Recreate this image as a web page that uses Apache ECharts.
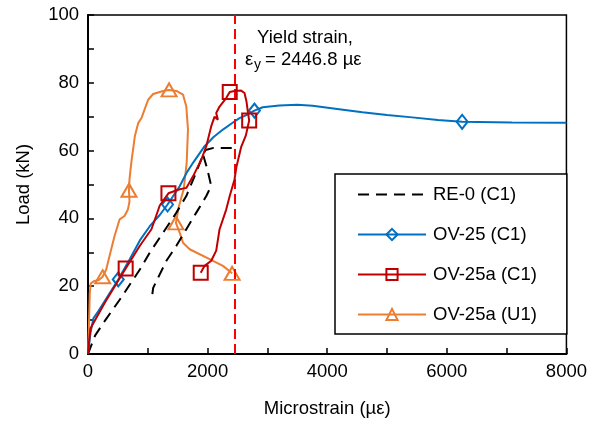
<!DOCTYPE html>
<html>
<head>
<meta charset="utf-8">
<script src="https://cdn.jsdelivr.net/npm/echarts@6/dist/echarts.min.js"></script>
<style>
  html, body { margin: 0; padding: 0; background: #fff; }
  #chart { width: 590px; height: 423px; }
</style>
</head>
<body>
<div id="chart"></div>
<script>
// axis ticks
const xTicks = [0, 2000, 4000, 6000, 8000]
const yTicks = [0, 20, 40, 60, 80, 100]
const yieldStrain = 2446.8

// RE-0 (C1): loading branch, plateau, then unloading/reloading branch
const re0 = [
  [0, 0], [120, 5.5], [290, 10], [530, 16], [870, 25], [1033, 29.9], [1256, 35.8],
  [1478, 41.7], [1644, 46.6], [1783, 52.5], [1894, 57.4], [1930, 58.5],
  [1965, 60.2], [2100, 60.8], [2300, 60.8], [2480, 60.8],
  null,
  [1930, 58.5], [1994, 54.6], [2060, 49.6], [1978, 46.6], [1811, 41.7], [1644, 36.8],
  [1478, 31.9], [1311, 27.5], [1172, 22.5], [1090, 19.5], [1065, 16.2]
]

// OV-25 (C1)
const ov25 = [
  [0, 0], [40, 6], [90, 10.5], [180, 12.8], [283, 15.7], [506, 22], [700, 28],
  [867, 33.5], [1033, 37.7], [1200, 41], [1330, 44.1], [1533, 49.5], [1650, 53.5],
  [1756, 56.4], [1950, 61.3], [2100, 64], [2256, 66.2], [2400, 68], [2533, 69.6],
  [2630, 70.3], [2783, 71.8], [2922, 72.8], [3200, 73.3], [3500, 73.5], [3756, 73.2],
  [4200, 72.2], [4589, 71.3], [5000, 70.5], [5422, 69.8], [5850, 69], [6256, 68.5],
  [7089, 68.3], [8000, 68.2]
]
const ov25Marks = [5, 10, 20, 30]

// OV-25a (C1)
const ov25a = [
  [0, 0], [20, 4], [40, 7.5], [283, 15.2], [630, 25.2], [870, 32], [1061, 36.8],
  [1200, 43.8], [1345, 47.4], [1533, 48.6], [1644, 49], [1756, 52.4], [1894, 57.3],
  [1978, 61.3], [2061, 67.2], [2117, 70], [2172, 69.1], [2144, 71.1], [2200, 73],
  [2311, 75.5], [2370, 77.3], [2450, 77.6], [2560, 77.7], [2617, 77], [2650, 74.5],
  [2675, 71.2], [2695, 68.9], [2640, 64.5], [2560, 61], [2480, 55], [2450, 51.5],
  [2370, 46.6], [2311, 42.6], [2200, 36.8], [2144, 30.5], [2061, 27.5], [1950, 26],
  [1885, 24]
]
const ov25aMarks = [4, 8, 20, 26, 37]

// OV-25a (U1)
const ov25aU = [
  [0, 0], [15, 8], [30, 18], [45, 20.8], [100, 21.5], [180, 21.8], [245, 22.8],
  [306, 25], [361, 29], [444, 34.8], [528, 39.7], [611, 40.7], [667, 42.6],
  [694, 45], [685, 48.3], [694, 51.5], [711, 54.4], [728, 57], [783, 64.2],
  [839, 68.1], [894, 69.6], [950, 72.3], [1006, 75], [1089, 76.7], [1256, 77.6],
  [1356, 77.9], [1478, 77.6], [1589, 76.5], [1644, 73], [1672, 66.2], [1650, 56.4],
  [1600, 48.6], [1520, 43.6], [1470, 38.7], [1533, 35.8], [1589, 32.8], [1700, 30.9],
  [2033, 28], [2256, 26], [2410, 23.8]
]
const ov25aUMarks = [6, 14, 25, 33, 39]

const FONT = 'Liberation Sans, Arial, sans-serif'
const labelFont = { fontFamily: FONT, fontSize: 18.5, color: '#000' }

const toData = (pts, marks) => pts.map((p, i) => {
  if (p === null) return '-'
  return marks && marks.includes(i) ? { value: p } : { value: p, symbol: 'none' }
})

const chart = echarts.init(document.getElementById('chart'))

const series = [
  {
    name: 'RE-0 (C1)',
    type: 'line',
    data: toData(re0, null),
    symbol: 'none',
    connectNulls: false,
    lineStyle: { color: '#000', width: 2, type: [11, 7] },
    itemStyle: { color: '#000' },
    z: 3
  },
  {
    name: 'OV-25 (C1)',
    type: 'line',
    data: toData(ov25, ov25Marks),
    symbol: 'diamond',
    symbolSize: [11, 14],
    lineStyle: { color: '#0070C0', width: 2 },
    itemStyle: { color: 'rgba(255,255,255,0)', borderColor: '#0070C0', borderWidth: 2 },
    z: 4,
    markLine: {
      silent: true,
      symbol: 'none',
      label: { show: false },
      lineStyle: { color: '#FF0000', width: 2, type: [10, 5] },
      data: [{ xAxis: yieldStrain }]
    }
  },
  {
    name: 'OV-25a (C1)',
    type: 'line',
    data: toData(ov25a, ov25aMarks),
    symbol: 'rect',
    symbolSize: 14,
    lineStyle: { color: '#C00000', width: 2 },
    itemStyle: { color: 'rgba(255,255,255,0)', borderColor: '#C00000', borderWidth: 2 },
    z: 5
  },
  {
    name: 'OV-25a (U1)',
    type: 'line',
    data: toData(ov25aU, ov25aUMarks),
    symbol: 'triangle',
    symbolSize: [15, 13],
    lineStyle: { color: '#ED7D31', width: 2 },
    itemStyle: { color: 'rgba(255,255,255,0)', borderColor: '#ED7D31', borderWidth: 2 },
    z: 2
  }
]

chart.setOption({
  animation: false,
  grid: {
    left: 88, right: 22, top: 15, bottom: 68,
    show: true, borderColor: '#000', borderWidth: 1.5, backgroundColor: 'transparent'
  },
  legend: {
    orient: 'vertical',
    left: 335, top: 174,
    width: 232,
    padding: [11, 30, 10, 22],
    itemWidth: 68, itemHeight: 14, itemGap: 21,
    borderColor: '#000', borderWidth: 1.5,
    backgroundColor: '#fff',
    textStyle: { ...labelFont, padding: [0, 0, 0, 2] },
    data: [
      { name: 'RE-0 (C1)', itemStyle: { color: 'rgba(0,0,0,0)', borderWidth: 0 } },
      'OV-25 (C1)', 'OV-25a (C1)', 'OV-25a (U1)'
    ]
  },
  xAxis: {
    type: 'value',
    min: xTicks[0], max: xTicks[xTicks.length - 1], interval: 2000,
    name: 'Microstrain (µε)',
    nameLocation: 'middle', nameGap: 45,
    nameTextStyle: labelFont,
    axisLine: { show: true, lineStyle: { color: '#000', width: 2 } },
    axisTick: { show: true, inside: true, length: 6, lineStyle: { color: '#000', width: 1.5 } },
    minorTick: { show: true, splitNumber: 2, length: 6, lineStyle: { color: '#000', width: 1.5 } },
    axisLabel: { ...labelFont, margin: 8, formatter: v => String(v) },
    splitLine: { show: false }
  },
  yAxis: {
    type: 'value',
    min: yTicks[0], max: yTicks[yTicks.length - 1], interval: 20,
    name: 'Load (kN)',
    nameLocation: 'middle', nameGap: 55,
    nameTextStyle: labelFont,
    axisLine: { show: true, lineStyle: { color: '#000', width: 2 } },
    axisTick: { show: true, inside: true, length: 6, lineStyle: { color: '#000', width: 1.5 } },
    minorTick: { show: true, splitNumber: 2, length: 6, lineStyle: { color: '#000', width: 1.5 } },
    axisLabel: { ...labelFont, margin: 9, formatter: v => String(v) },
    splitLine: { show: false }
  },
  graphic: [
    { type: 'text', left: 257, top: 28, style: { text: 'Yield strain,', fill: '#000', font: '18.5px ' + FONT } },
    { type: 'text', left: 245, top: 50, style: { text: 'ε', fill: '#000', font: '18.5px ' + FONT } },
    { type: 'text', left: 254, top: 58, style: { text: 'y', fill: '#000', font: '14px ' + FONT } },
    { type: 'text', left: 265, top: 50, style: { text: '= 2446.8 µε', fill: '#000', font: '18.5px ' + FONT } }
  ],
  series
})
</script>
</body>
</html>
